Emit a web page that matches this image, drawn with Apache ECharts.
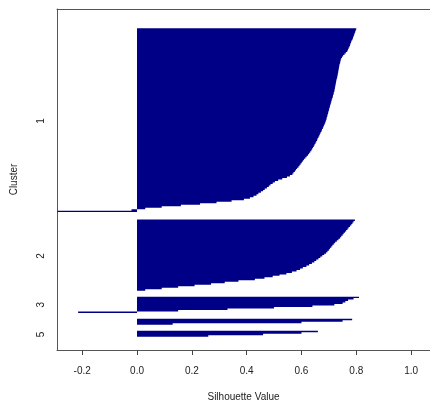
<!DOCTYPE html>
<html>
<head>
<meta charset="utf-8">
<script src="https://cdn.jsdelivr.net/npm/echarts@6/dist/echarts.min.js"></script>
<style>
  html, body { margin: 0; padding: 0; background: #fff; }
  #chart { width: 430px; height: 407px; }
</style>
</head>
<body>
<div id="chart"></div>
<script>
// silhouette widths per cluster, sorted high -> low
var cluster1 = [
  0.800, 0.798, 0.796, 0.794, 0.792, 0.790, 0.788, 0.786, 0.783, 0.781,
  0.779, 0.777, 0.775, 0.772, 0.770, 0.767, 0.762, 0.757, 0.752, 0.748,
  0.745, 0.743, 0.742, 0.741, 0.739, 0.738, 0.737, 0.736, 0.735, 0.734,
  0.733, 0.732, 0.731, 0.730, 0.728, 0.727, 0.726, 0.725, 0.724, 0.723,
  0.722, 0.721, 0.720, 0.718, 0.717, 0.715, 0.714, 0.712, 0.710, 0.709,
  0.707, 0.706, 0.704, 0.703, 0.701, 0.700, 0.698, 0.697, 0.695, 0.694,
  0.692, 0.691, 0.689, 0.687, 0.685, 0.682, 0.680, 0.678, 0.675, 0.673,
  0.670, 0.667, 0.665, 0.662, 0.659, 0.657, 0.654, 0.651, 0.648, 0.645,
  0.642, 0.639, 0.636, 0.632, 0.628, 0.624, 0.619, 0.614, 0.609, 0.605,
  0.601, 0.597, 0.593, 0.589, 0.584, 0.580, 0.576, 0.571, 0.567, 0.558,
  0.547, 0.530, 0.515, 0.503, 0.495, 0.487, 0.481, 0.474, 0.466, 0.460,
  0.452, 0.443, 0.436, 0.425, 0.412, 0.390, 0.345, 0.290, 0.230, 0.160,
  0.090, 0.030, -0.020, -0.290
];
var cluster2 = [
  0.795, 0.790, 0.786, 0.782, 0.777, 0.772, 0.768, 0.763, 0.759, 0.754,
  0.750, 0.745, 0.741, 0.735, 0.729, 0.723, 0.718, 0.713, 0.709, 0.704,
  0.700, 0.695, 0.690, 0.683, 0.676, 0.669, 0.662, 0.654, 0.647, 0.638,
  0.628, 0.618, 0.605, 0.595, 0.582, 0.565, 0.545, 0.520, 0.495, 0.465,
  0.430, 0.370, 0.320, 0.270, 0.210, 0.150, 0.090, 0.030
];
var cluster3 = [0.810, 0.790, 0.770, 0.760, 0.750, 0.720, 0.640, 0.500, 0.330, 0.150, -0.215];
var cluster4 = [0.785, 0.750, 0.600, 0.130];
var cluster5 = [0.660, 0.600, 0.460, 0.260];

var clusterLabels = ['1', '2', '3', '', '5'];   // "4" is dropped in the original (overlap)
var xTicks = [-0.2, 0.0, 0.2, 0.4, 0.6, 0.8, 1.0];

// empty rows above, between and below the clusters
var padTop = 13, padBottom = 9;
var gaps = [5, 4, 4, 4];

var clusters = [cluster1, cluster2, cluster3, cluster4, cluster5];
var rows = [];
var tickRows = {};
for (var i = 0; i < padTop; i++) rows.push(null);
clusters.forEach(function (c, k) {
  tickRows[rows.length + Math.floor(c.length / 2)] = clusterLabels[k];
  c.forEach(function (v) { rows.push(v); });
  if (k < gaps.length) {
    for (var g = 0; g < gaps[k]; g++) rows.push(null);
  }
});
for (var i = 0; i < padBottom; i++) rows.push(null);
var cats = rows.map(function (v, i) { return 'r' + i; });

var chart = echarts.init(document.getElementById('chart'));
var font = 'Liberation Sans, Arial, sans-serif';
var xMin = -0.292, xMax = 1.069;
var lineCol = '#555';

chart.setOption({
  animation: false,
  grid: { left: 57, right: 0, top: 9, bottom: 53 },
  xAxis: [{
    type: 'value',
    min: xMin,
    max: xMax,
    name: 'Silhouette Value',
    nameLocation: 'middle',
    nameGap: 42,
    nameTextStyle: { fontFamily: font, fontSize: 10, color: '#222' },
    axisLine: { show: true, lineStyle: { color: lineCol } },
    splitLine: { show: false },
    axisTick: { show: true, customValues: xTicks, length: 5, lineStyle: { color: '#444' } },
    axisLabel: {
      customValues: xTicks,
      margin: 16,
      fontFamily: font, fontSize: 10, color: '#222',
      formatter: function (v) { return v.toFixed(1); }
    }
  }, {
    // top edge of the box
    type: 'value',
    position: 'top',
    min: xMin,
    max: xMax,
    axisLine: { show: true, onZero: false, lineStyle: { color: lineCol } },
    axisTick: { show: false },
    axisLabel: { show: false },
    splitLine: { show: false }
  }],
  yAxis: {
    type: 'category',
    data: cats,
    inverse: true,
    name: 'Cluster',
    nameLocation: 'middle',
    nameRotate: 90,
    nameGap: 38,
    nameTextStyle: { fontFamily: font, fontSize: 10, color: '#222' },
    axisLine: { show: true, onZero: false, lineStyle: { color: lineCol } },
    splitLine: { show: false },
    axisTick: {
      alignWithLabel: true,
      length: 6,
      lineStyle: { color: '#444' },
      interval: function (i) { return tickRows.hasOwnProperty(i); }
    },
    axisLabel: {
      rotate: 90,
      margin: 11,
      fontFamily: font, fontSize: 10, color: '#222',
      interval: function (i) { return tickRows.hasOwnProperty(i); },
      formatter: function (v, i) { return tickRows[i] || ''; }
    }
  },
  series: [{
    type: 'bar',
    data: rows,
    xAxisIndex: 0,
    barCategoryGap: '0%',
    large: true,
    largeThreshold: 50,
    itemStyle: { color: '#000087' }
  }]
});
</script>
</body>
</html>
